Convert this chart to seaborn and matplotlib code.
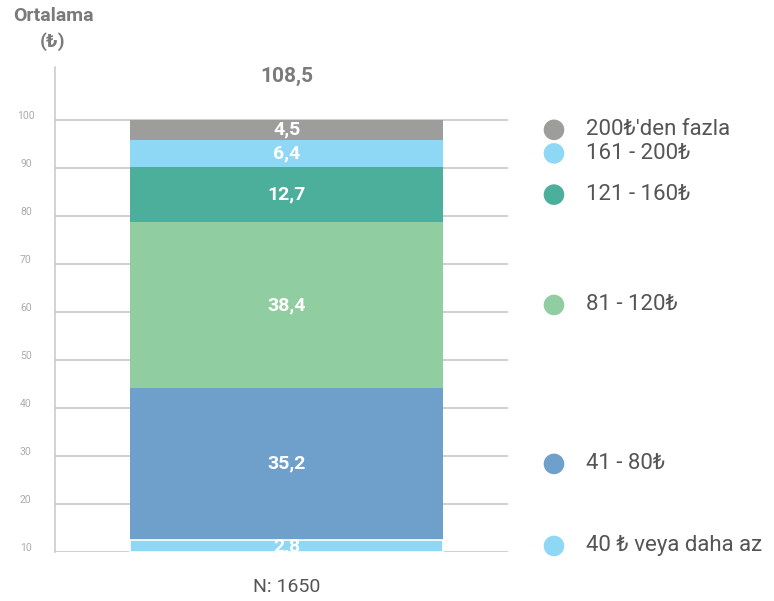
import numpy as np
import pandas as pd
import matplotlib
matplotlib.use("Agg")
import matplotlib.pyplot as plt
import seaborn as sns
from matplotlib.transforms import ScaledTranslation

# Spending bands, bottom to top, with their share (%)
bands = ["40 ₺ veya daha az", "41 - 80₺", "81 - 120₺", "121 - 160₺", "161 - 200₺", "200₺'den fazla"]
shares = [2.8, 35.2, 38.4, 12.7, 6.4, 4.5]
colors = ["#8fd8f5", "#6fa0cc", "#90cda0", "#4caf9c", "#8fd8f5", "#9d9d9c"]
category = "N: 1650"
average = 108.5
tick_labels = ["10", "20", "30", "40", "50", "60", "70", "80", "90", "100"]

sns.set_theme(style="white")
FONT = ["Roboto", "DejaVu Sans"]
plt.rcParams["font.family"] = FONT

fig = plt.figure(figsize=(7.74, 6.01), dpi=100)
ax = fig.add_axes([55 / 774, 1 - 552 / 601, (508 - 55) / 774, (552 - 67) / 601])

cum = np.cumsum(shares)
df = pd.DataFrame({"band": bands, "share": shares, "cum": cum, "color": colors, "x": category})

# Stacked bar: draw cumulative totals from the top layer down
for i in range(len(df) - 1, -1, -1):
    row = df.iloc[[i]]
    sns.barplot(data=row, x="x", y="cum", color=row["color"].iloc[0], saturation=1,
                width=0.8, ax=ax, linewidth=1.2 if i == 0 else 0,
                edgecolor="white", zorder=2)

# Segment value labels
bottoms = cum - np.array(shares)
for b, v in zip(bottoms, shares):
    ax.text(0, b + v / 2, f"{v:.1f}".replace(".", ","), ha="center", va="center",
            color="white", fontsize=14, fontweight="bold", family=FONT,
            clip_on=True, zorder=3)

# Average above the bar
ax.text(0, 110.0, f"{average:.1f}".replace(".", ","), ha="center", va="center",
        color="#7a7a7a", fontsize=15, fontweight="bold", family=FONT)

ax.set_xlim(-0.592, 0.566)
ax.set_ylim(0, 112.3)

# Reference lines labelled 10..100
ax.set_yticks(np.linspace(0, 100, len(tick_labels)))
ax.set_yticklabels(tick_labels)
ax.yaxis.grid(True, color="#c2c2c2", linewidth=1.1)
ax.set_axisbelow(True)
ax.tick_params(axis="y", length=0, pad=21, labelsize=7.5, labelcolor="#ababab")
lift = ScaledTranslation(0, 3 / 72, fig.dpi_scale_trans)
for lab in ax.get_yticklabels():
    lab.set_horizontalalignment("center")
    lab.set_verticalalignment("center")
    lab.set_transform(lab.get_transform() + lift)
ax.tick_params(axis="x", length=0, pad=19, labelsize=14, labelcolor="#555555")
ax.set_xlabel("")
ax.set_ylabel("")

for s in ["top", "right", "bottom"]:
    ax.spines[s].set_visible(False)
ax.spines["left"].set_color("#c8c8c8")
ax.spines["left"].set_linewidth(1.1)

# Legend entries placed beside their segments
trans = ax.get_yaxis_transform()
mids = bottoms + np.array(shares) / 2
ax.scatter([1.1015] * len(mids), mids, s=220, c=colors, transform=trans,
           clip_on=False, linewidths=0, zorder=4)
for m, name in zip(mids, bands):
    ax.text(1.172, m, name, transform=trans, ha="left", va="center",
            fontsize=16, color="#555555", family=FONT, clip_on=False)

fig.text(53 / 774, 1 - 29 / 601, "Ortalama\n(₺)", ha="center", va="center",
         multialignment="center", fontsize=14, fontweight="bold",
         color="#7a7a7a", family=FONT, linespacing=1.5)

fig.savefig("out.png", dpi=100)
